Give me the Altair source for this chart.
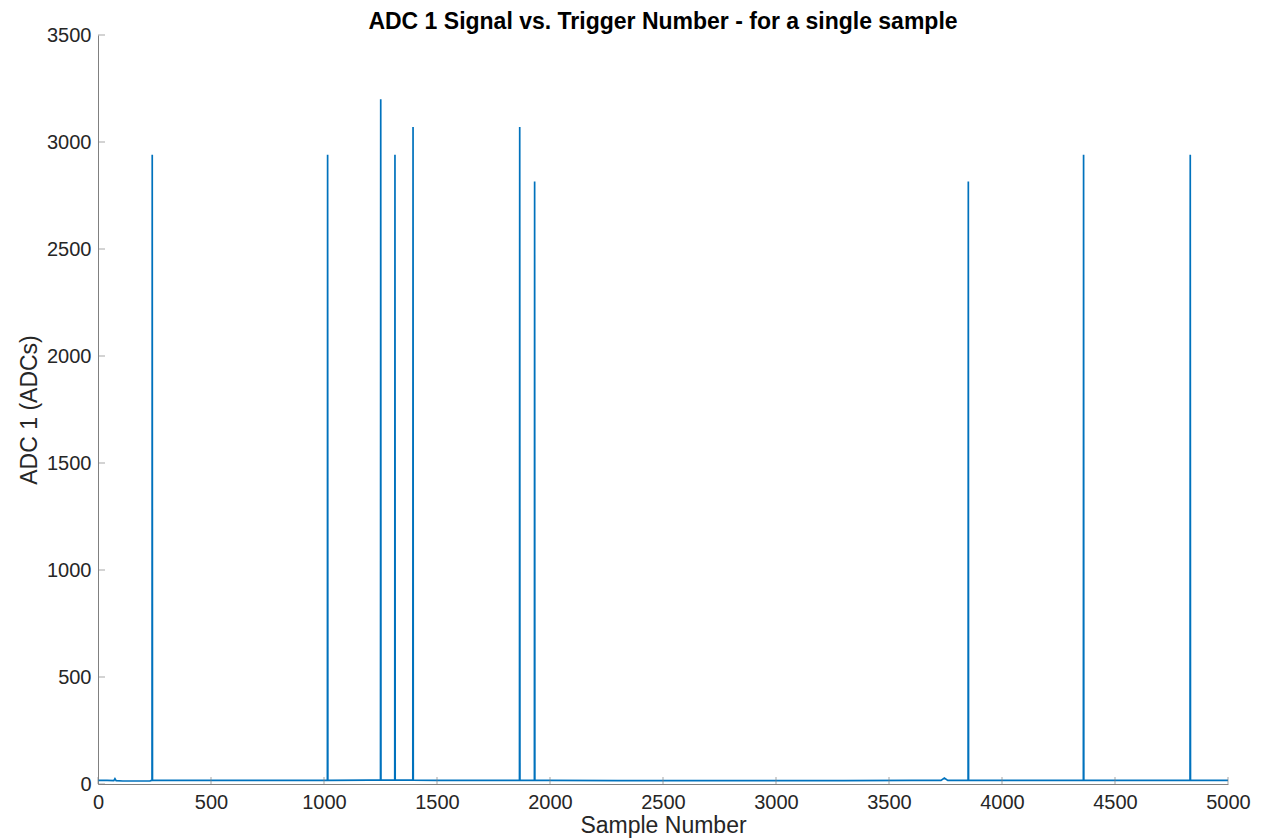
import altair as alt
import pandas as pd

# Baseline (pedestal) readings
baseline_samples = [1, 40, 70, 75, 80, 110, 160, 200, 230, 300, 500, 800, 1000, 1200, 1500, 1800, 2000,
                    2300, 2600, 3000, 3300, 3600, 3730, 3745, 3760, 3800, 4000, 4300, 4600, 4900, 5000]
baseline_values = [17, 17, 16, 25, 16, 14, 14, 14, 15, 17, 17, 17, 17, 18, 17, 17, 17,
                   16, 16, 16, 16, 17, 17, 28, 17, 17, 17, 17, 17, 17, 17]

# Spikes (single-sample triggers)
spike_samples = [240, 1016, 1251, 1314, 1394, 1866, 1932, 3851, 4361, 4833]
spike_peaks = [2940, 2940, 3200, 2940, 3070, 3070, 2815, 2815, 2940, 2940]
spike_base = [17, 17, 18, 18, 18, 17, 17, 17, 17, 17]

x_ticks = [0, 500, 1000, 1500, 2000, 2500, 3000, 3500, 4000, 4500, 5000]
y_ticks = [0, 500, 1000, 1500, 2000, 2500, 3000, 3500]

rows = [{"sample": s, "adc": v} for s, v in zip(baseline_samples, baseline_values)]
for s, p, b in zip(spike_samples, spike_peaks, spike_base):
    rows += [{"sample": s - 1, "adc": b}, {"sample": s, "adc": p}, {"sample": s + 1, "adc": b}]
df = pd.DataFrame(rows).sort_values("sample").reset_index(drop=True)

W, H = 1130, 749
FONT = "Liberation Sans"

xscale = alt.Scale(domain=[0, 5000], nice=False, zero=False, padding=0)
yscale = alt.Scale(domain=[0, 3500], nice=False, padding=0)

line = alt.Chart(df).mark_line(color="#0072BD", strokeWidth=1.7, clip=True).encode(
    x=alt.X("sample:Q", scale=xscale, title="Sample Number",
            axis=alt.Axis(values=x_ticks, format="d", tickSize=0, labelPadding=8,
                          labelFlush=False, titlePadding=2, grid=False)),
    y=alt.Y("adc:Q", scale=yscale, title="ADC 1 (ADCs)",
            axis=alt.Axis(values=y_ticks, format="d", tickSize=0, labelPadding=7,
                          labelFlush=False, titlePadding=5, grid=False)),
)

xt = alt.Chart(pd.DataFrame({"t": x_ticks})).mark_tick(
    color="#808080", thickness=1, size=7, orient="vertical"
).encode(x=alt.X("t:Q", scale=xscale), y=alt.value(H - 3.5))

yt = alt.Chart(pd.DataFrame({"t": y_ticks})).mark_tick(
    color="#808080", thickness=1, size=7, orient="horizontal"
).encode(y=alt.Y("t:Q", scale=yscale), x=alt.value(3.5))

chart = alt.layer(line, xt, yt).properties(
    width=W, height=H,
    title=alt.TitleParams("ADC 1 Signal vs. Trigger Number - for a single sample",
                          font=FONT, fontSize=23, fontWeight="bold", color="#000000",
                          anchor="middle", frame="group", offset=4, dy=13),
    autosize=alt.AutoSizeParams(type="none"),
    padding={"left": 90, "top": 27, "right": 40, "bottom": 60},
).configure_view(stroke=None).configure_axis(
    domainColor="#808080", domainWidth=1,
    labelFont=FONT, labelFontSize=20, labelColor="#262626",
    titleFont=FONT, titleFontSize=23, titleColor="#262626", titleFontWeight="normal",
)

chart.save("out.html", embed_options={"renderer": "svg", "actions": False})
